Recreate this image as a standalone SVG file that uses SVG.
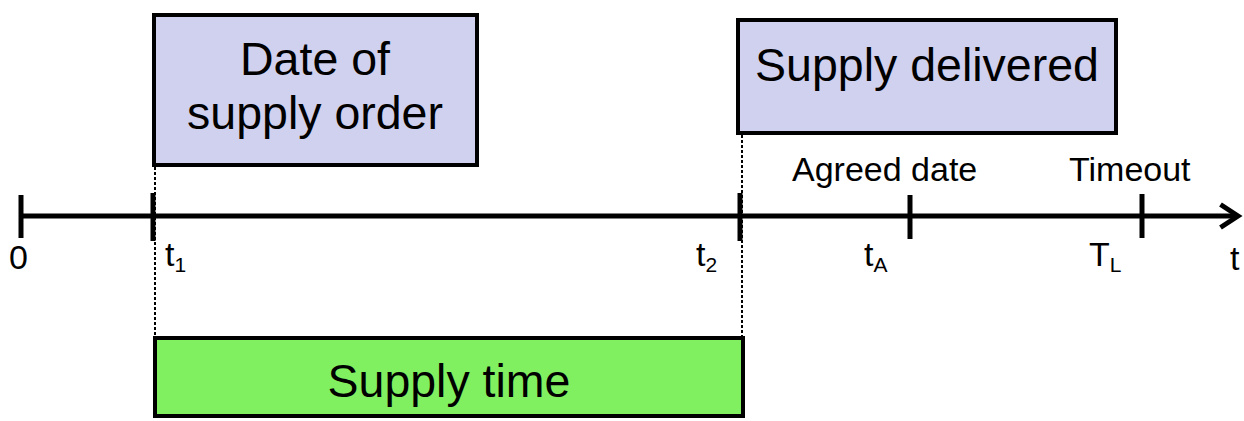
<svg xmlns="http://www.w3.org/2000/svg" width="1244" height="421" viewBox="0 0 1244 421">
<style>
.box{fill:#d0d0ef;stroke:#000;stroke-width:4}
.green{fill:#80f060;stroke:#000;stroke-width:4}
.big{font-family:"Liberation Sans",Arial,sans-serif;font-size:46.5px;fill:#000;text-anchor:middle}
.lbl{font-family:"Liberation Sans",Arial,sans-serif;font-size:34px;fill:#000}
.sub{font-size:21px}
.axis{stroke:#000;stroke-width:5;fill:none}
.tick{stroke:#000;stroke-width:5}
.dash{stroke:#000;stroke-width:2;stroke-dasharray:3 2;fill:none}
</style>
<defs>
<marker id="arr" markerWidth="6" markerHeight="6" refX="4" refY="3" orient="auto" markerUnits="strokeWidth">
<path d="M0.5,0.7 L4,3 L0.5,5.3" fill="none" stroke="#000" stroke-width="1"/>
</marker>
</defs>
<g id="connectors">
<line class="dash" x1="155" y1="167" x2="155" y2="338"/>
<line class="dash" x1="742" y1="135" x2="742" y2="338"/>
<line class="axis" x1="21" y1="216" x2="1238" y2="216" marker-end="url(#arr)"/>
<line class="tick" x1="21" y1="195" x2="21" y2="238"/>
<line class="tick" x1="153" y1="193" x2="153" y2="241"/>
<line class="tick" x1="740" y1="193" x2="740" y2="241"/>
<line class="tick" x1="910" y1="195" x2="910" y2="239"/>
<line class="tick" x1="1142" y1="194" x2="1142" y2="238"/>
</g>
<g id="order">
<rect class="box" x="154" y="15" width="323" height="150"/>
<text class="big" x="315" y="75">Date of</text>
<text class="big" x="315" y="129">supply order</text>
</g>
<g id="delivered">
<rect class="box" x="738" y="20" width="378" height="113"/>
<text class="big" x="927" y="81">Supply delivered</text>
</g>
<g id="supplytime">
<rect class="green" x="155" y="338" width="588" height="78"/>
<text class="big" x="449" y="397">Supply time</text>
</g>
<g id="labels">
<text class="lbl" x="9" y="269">0</text>
<text class="lbl" x="165" y="266">t<tspan class="sub" dy="6">1</tspan></text>
<text class="lbl" x="696" y="266">t<tspan class="sub" dy="6">2</tspan></text>
<text class="lbl" x="864" y="266">t<tspan class="sub" dy="6">A</tspan></text>
<text class="lbl" x="1089" y="266">T<tspan class="sub" dy="6">L</tspan></text>
<text class="lbl" x="1230" y="270">t</text>
<text class="lbl" x="792" y="181">Agreed date</text>
<text class="lbl" x="1069" y="181">Timeout</text>
</g>
</svg>
